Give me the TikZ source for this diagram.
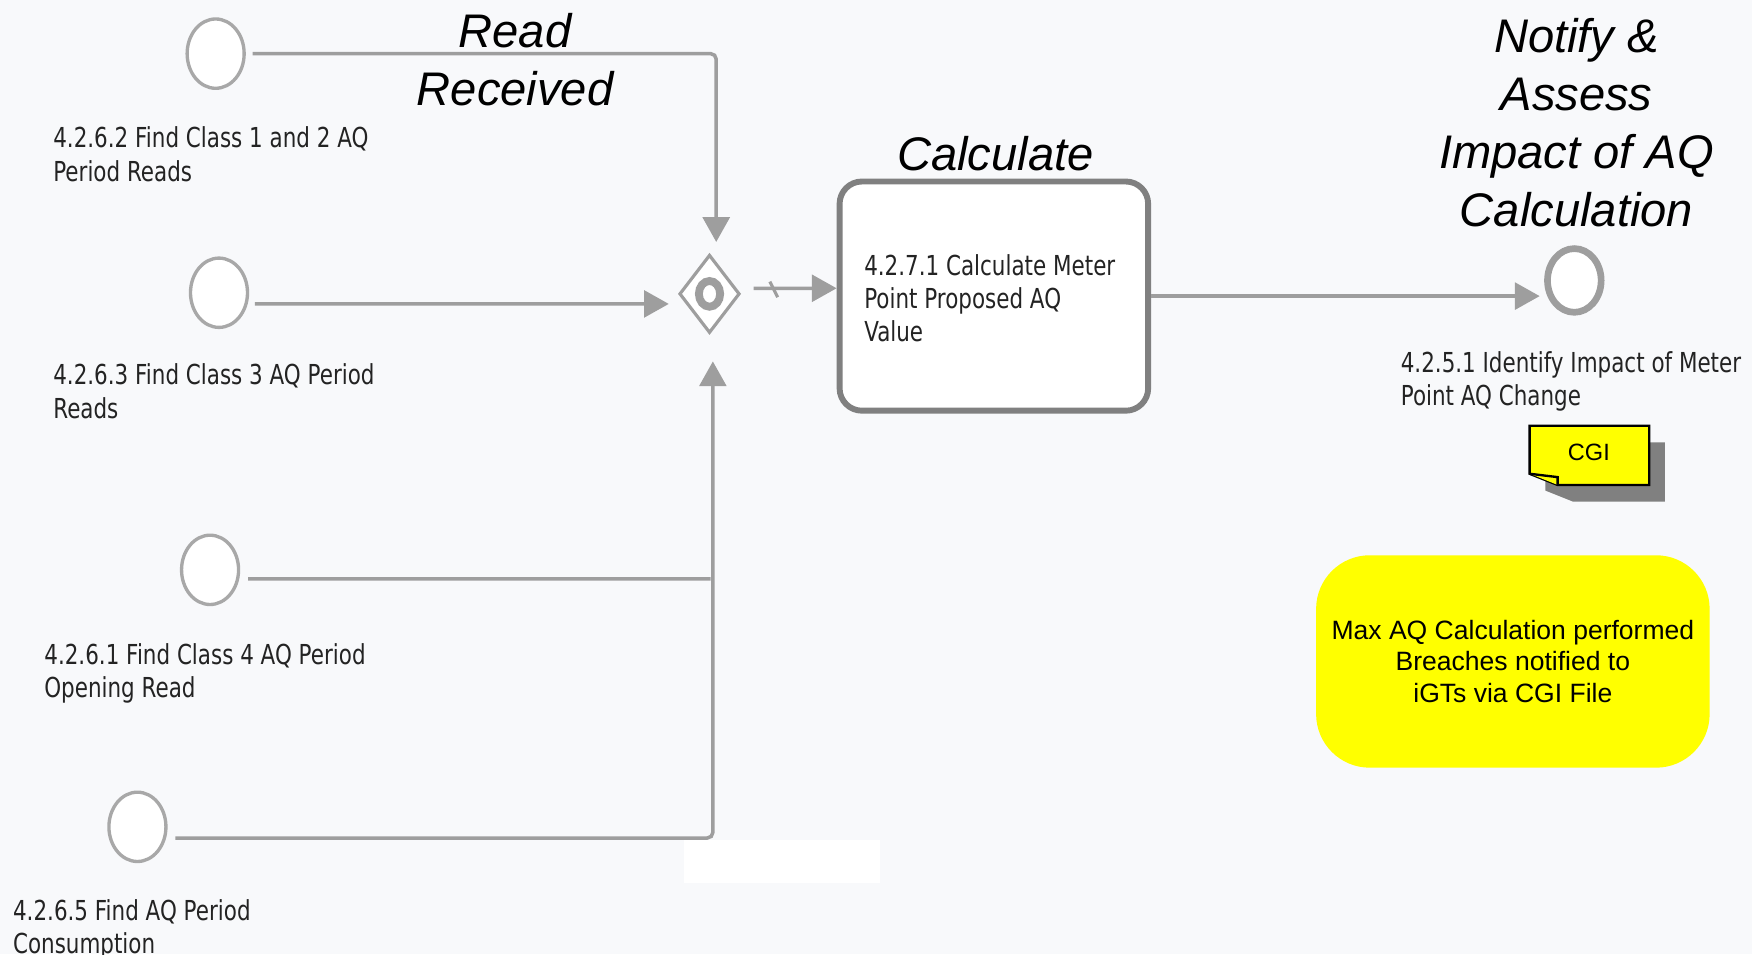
\documentclass[tikz,border=0pt]{standalone}
\usepackage{fontspec}
\setmainfont{Liberation Sans}
\newfontfamily\lblfont[FakeStretch=0.78]{DejaVu Sans}
\usetikzlibrary{arrows.meta,shapes.geometric,calc}
\definecolor{bg}{RGB}{248,249,251}
\definecolor{flowgray}{RGB}{158,158,158}
\definecolor{evgray}{RGB}{168,168,168}
\definecolor{taskgray}{RGB}{128,128,128}
\definecolor{lbltxt}{RGB}{35,35,35}
\definecolor{noteyellow}{RGB}{255,255,0}
\definecolor{shadowgray}{RGB}{128,128,128}
\begin{document}
\begin{tikzpicture}[x=0.01cm,y=-0.01cm,
  evt/.style={ellipse, draw=evgray, line width=0.85pt, fill=white, minimum width=0.51cm, minimum height=0.62cm, inner sep=0pt},
  endevt/.style={ellipse, draw=flowgray, line width=1.7pt, fill=white, minimum width=0.48cm, minimum height=0.57cm, inner sep=0pt},
  lbl/.style={font=\lblfont\fontsize{7}{8.5}\selectfont, text=lbltxt, align=left, inner sep=0pt, anchor=north west},
  head/.style={font=\itshape\fontsize{12}{14.7}\selectfont, align=center, inner sep=0pt, anchor=north},
  flowline/.style={draw=flowgray, line width=0.9pt},
  flow/.style={flowline, -{Triangle[length=6.3pt,width=6.8pt]}},
  gateway/.style={diamond, draw=flowgray, line width=0.8pt, fill=white, minimum width=0.54cm, minimum height=0.70cm, inner sep=0pt},
  taskbox/.style={rectangle, rounded corners=0.2cm, draw=taskgray, line width=1.5pt, fill=white, minimum width=2.76cm, minimum height=2.05cm, inner sep=0pt},
  notebox/.style={rectangle, rounded corners=0.48cm, fill=noteyellow, minimum width=3.52cm, minimum height=1.90cm, align=center, font=\fontsize{6.75}{8.1}\selectfont}
]
\fill[bg] (0,0) rectangle (1568,854);
\useasboundingbox (0,0) rectangle (1568,854);

% white patch
\fill[white] (612,752) rectangle (788,790);

% events
\node[evt] (c1) at (193,48) {};
\node[evt] (c2) at (196,262) {};
\node[evt] (c3) at (188,510) {};
\node[evt] (c4) at (123,740) {};
\node[endevt] (end) at (1409,251) {};

% gateway
\node[gateway] (gw) at (635,263) {};
\draw[flowgray, line width=2pt] (gw.center) ellipse [x radius=0.095cm, y radius=0.115cm];

% task
\node[taskbox] (task) at (889.5,265) {};
\node[lbl] (tasktxt) at ($(task.north west)+(24,67)$) {4.2.7.1 Calculate Meter\\Point Proposed AQ\\Value};

% labels
\node[lbl] (l1) at (47,113) {4.2.6.2 Find Class 1 and 2 AQ\\Period Reads};
\node[lbl] (l2) at (47,325) {4.2.6.3 Find Class 3 AQ Period\\Reads};
\node[lbl] (l3) at (39,575) {4.2.6.1 Find Class 4 AQ Period\\Opening Read};
\node[lbl] (l4) at (11,804) {4.2.6.5 Find AQ Period\\Consumption};
\node[lbl] (l5) at (1253,314) {4.2.5.1 Identify Impact of Meter\\Point AQ Change};

% headings
\node[head] (h1) at (461,11) {Read\\Received};
\node[head] (h2) at (891,121) {Calculate};
\node[head] (h3) at (1411,16) {Notify \&\\Assess\\Impact of AQ\\Calculation};

% connectors
\draw[flow, rounded corners=0.05cm] ([xshift=0.06cm]c1.east) -| ([xshift=0.06cm,yshift=0.1cm]gw.north);
\draw[flow] ([xshift=0.05cm,yshift=-0.1cm]c2.east) -- ([xshift=-0.08cm,yshift=-0.09cm]gw.west);
\coordinate (join3) at (636,518);
\draw[flowline] ([xshift=0.07cm,yshift=-0.08cm]c3.east) -- (join3);
\draw[flow, rounded corners=0.05cm] ([xshift=0.07cm,yshift=-0.1cm]c4.east) -| ([xshift=0.03cm,yshift=-0.24cm]gw.south);
\draw[flow] ([xshift=0.11cm,yshift=0.05cm]gw.east) -- ([yshift=0.07cm]task.west);
\draw[flowgray, line width=0.8pt] (689,252) -- (696,266);
\coordinate (endtip) at ([xshift=-0.04cm]task.east -| end.west);
\draw[flow] (task.east) -- (endtip);

% CGI note
\fill[shadowgray] (1383,396) -- (1490,396) -- (1490,449) -- (1408,449) -- (1383,439) -- cycle;
\draw[black, line width=0.6pt, fill=noteyellow] (1369,381) -- (1476,381) -- (1476,434) -- (1394,434) -- (1369,424) -- cycle;
\draw[black, line width=0.6pt, fill=noteyellow] (1369,424) -- (1394,427) -- (1394,434);
\node[font=\fontsize{6}{7}\selectfont, inner sep=0pt] (cgi) at (1422,405) {CGI};

% yellow note
\node[notebox] (maxaq) at (1354,592) {Max AQ Calculation performed\\Breaches notified to\\iGTs via CGI File};
\end{tikzpicture}
\end{document}
